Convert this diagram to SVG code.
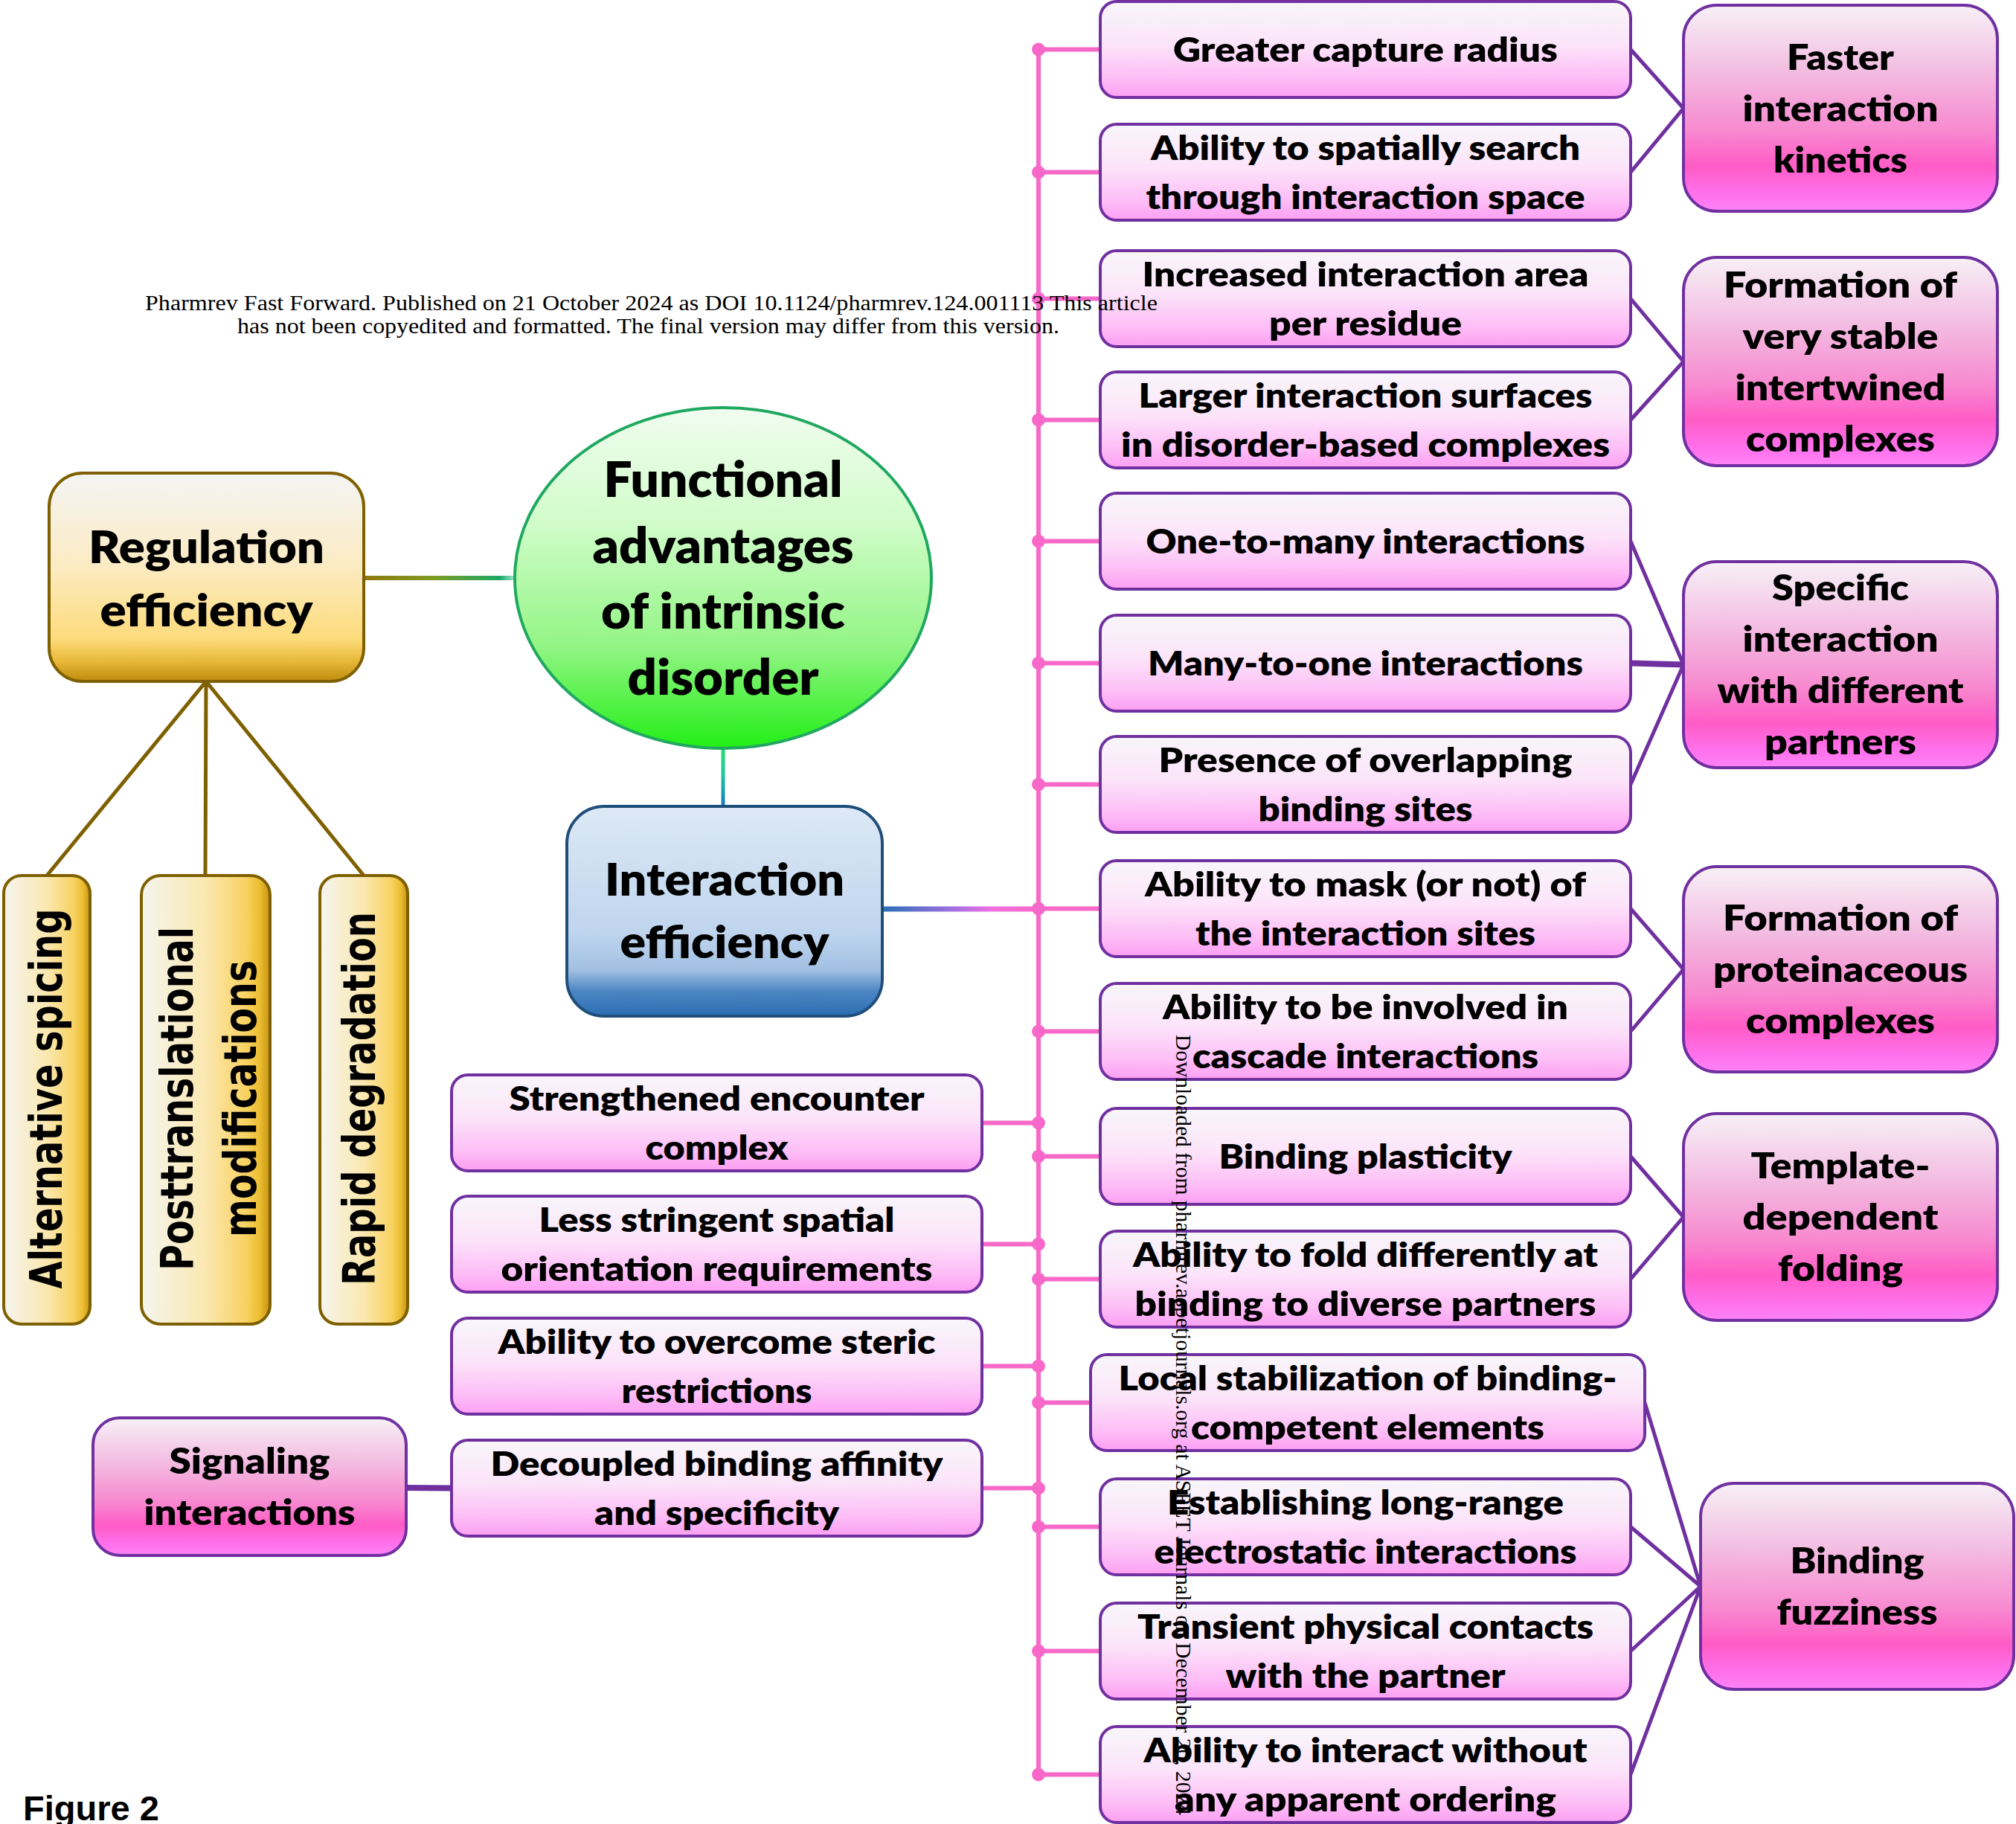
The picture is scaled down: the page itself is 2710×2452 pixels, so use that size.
<svg xmlns="http://www.w3.org/2000/svg" width="2710" height="2452" viewBox="0 0 2710 2452">
<defs>
<linearGradient id="gBox" x1="0" y1="0" x2="0" y2="1"><stop offset="0" stop-color="#f8f6fa"/><stop offset="0.45" stop-color="#fce4fa"/><stop offset="0.8" stop-color="#fdbdf6"/><stop offset="1" stop-color="#fc9ff3"/></linearGradient>
<linearGradient id="gCat" x1="0" y1="0" x2="0" y2="1"><stop offset="0" stop-color="#f7f0f6"/><stop offset="0.3" stop-color="#f3c0e3"/><stop offset="0.6" stop-color="#f78bd0"/><stop offset="0.78" stop-color="#ff5cc6"/><stop offset="0.9" stop-color="#ff6ee8"/><stop offset="1" stop-color="#ff82f8"/></linearGradient>
<linearGradient id="gReg" x1="0" y1="0" x2="0" y2="1"><stop offset="0" stop-color="#f3f4f4"/><stop offset="0.45" stop-color="#fcebc2"/><stop offset="0.8" stop-color="#fddb7a"/><stop offset="0.9" stop-color="#e8b93a"/><stop offset="1" stop-color="#be8c0c"/></linearGradient>
<linearGradient id="gVert" x1="0" y1="0" x2="1" y2="0"><stop offset="0" stop-color="#f5f5ef"/><stop offset="0.5" stop-color="#fbe8b0"/><stop offset="0.82" stop-color="#f8d160"/><stop offset="0.92" stop-color="#ebbd30"/><stop offset="1" stop-color="#c39212"/></linearGradient>
<linearGradient id="gEll" x1="0" y1="0" x2="0" y2="1"><stop offset="0" stop-color="#f1fcf0"/><stop offset="0.35" stop-color="#cffcc8"/><stop offset="0.7" stop-color="#93f585"/><stop offset="1" stop-color="#22ee16"/></linearGradient>
<linearGradient id="gInt" x1="0" y1="0" x2="0" y2="1"><stop offset="0" stop-color="#dde9f5"/><stop offset="0.6" stop-color="#bfd5ee"/><stop offset="0.78" stop-color="#a2c0e3"/><stop offset="0.88" stop-color="#4d86c4"/><stop offset="1" stop-color="#2b6db2"/></linearGradient>
<linearGradient id="gRegEll" gradientUnits="userSpaceOnUse" x1="489" y1="0" x2="692" y2="0"><stop offset="0" stop-color="#8f7a0e"/><stop offset="0.45" stop-color="#7f9a20"/><stop offset="0.9" stop-color="#1aa866"/><stop offset="1" stop-color="#9ee8d0"/></linearGradient>
<linearGradient id="gEllInt" gradientUnits="userSpaceOnUse" x1="0" y1="1005" x2="0" y2="1084"><stop offset="0" stop-color="#22e066"/><stop offset="0.45" stop-color="#1cc8a0"/><stop offset="1" stop-color="#1a78c0"/></linearGradient>
<linearGradient id="gIntSp" gradientUnits="userSpaceOnUse" x1="1186" y1="0" x2="1396" y2="0"><stop offset="0" stop-color="#2a6fb8"/><stop offset="0.45" stop-color="#a070e0"/><stop offset="0.7" stop-color="#f070e0"/><stop offset="1" stop-color="#f868c8"/></linearGradient>
<style>
.box{fill:url(#gBox);stroke:#7030a0;stroke-width:4}
.cat{fill:url(#gCat);stroke:#7030a0;stroke-width:4}
.t{font-family:Lato,"Liberation Sans",sans-serif;font-weight:800;font-size:45px;text-anchor:middle;fill:#000}
.tc{font-family:Lato,"Liberation Sans",sans-serif;font-weight:800;font-size:47px;text-anchor:middle;fill:#000}
.tb{font-family:Lato,"Liberation Sans",sans-serif;font-weight:800;font-size:60px;text-anchor:middle;fill:#000}
.te{font-family:Lato,"Liberation Sans",sans-serif;font-weight:800;font-size:66px;text-anchor:middle;fill:#000}
.tv{font-family:"DejaVu Sans",Verdana,sans-serif;font-weight:700;font-size:60px;text-anchor:middle;fill:#000}
.wm{font-family:"Liberation Serif","Times New Roman",serif;font-size:29.5px;fill:#000}
.pk{stroke:#f868c8;stroke-width:6;fill:none}
.pu{stroke:#7030a0;stroke-width:5;fill:none}
.br{stroke:#7f6000;stroke-width:5;fill:none}
.dot{fill:#f868c8}
</style>
</defs>
<rect width="2710" height="2452" fill="#ffffff"/>

<g id="connectors">
<line x1="489" y1="777" x2="692" y2="777" stroke="url(#gRegEll)" stroke-width="6"/>
<line x1="972" y1="1003" x2="972" y2="1084" stroke="url(#gEllInt)" stroke-width="5"/>
<line x1="1186" y1="1222" x2="1396" y2="1222" stroke="url(#gIntSp)" stroke-width="7"/>
<path class="br" d="M277,916 L63,1177 M277,916 L276,1177 M277,916 L489,1177"/>
<path class="pk" d="M1396,66.5 V2385.5"/>
<path class="pk" d="M1396,66.5 H1479 M1396,231.5 H1479 M1396,401.5 H1479 M1396,564.5 H1479 M1396,727.5 H1479 M1396,891.5 H1479 M1396,1054.5 H1479 M1396,1221.5 H1479 M1396,1386.5 H1479 M1396,1554.5 H1479 M1396,1719.5 H1479 M1396,1885.5 H1466 M1396,2052.5 H1479 M1396,2219.5 H1479 M1396,2385.5 H1479"/>
<path class="pk" d="M1320,1509.5 H1396 M1320,1672.5 H1396 M1320,1836.5 H1396 M1320,2000.5 H1396"/>
<g class="dot">
<circle cx="1396" cy="66.5" r="9"/><circle cx="1396" cy="231.5" r="9"/><circle cx="1396" cy="401.5" r="9"/><circle cx="1396" cy="564.5" r="9"/><circle cx="1396" cy="727.5" r="9"/><circle cx="1396" cy="891.5" r="9"/><circle cx="1396" cy="1054.5" r="9"/><circle cx="1396" cy="1221.5" r="9"/><circle cx="1396" cy="1386.5" r="9"/><circle cx="1396" cy="1554.5" r="9"/><circle cx="1396" cy="1719.5" r="9"/><circle cx="1396" cy="1885.5" r="9"/><circle cx="1396" cy="2052.5" r="9"/><circle cx="1396" cy="2219.5" r="9"/><circle cx="1396" cy="2385.5" r="9"/>
<circle cx="1396" cy="1509.5" r="9"/><circle cx="1396" cy="1672.5" r="9"/><circle cx="1396" cy="1836.5" r="9"/><circle cx="1396" cy="2000.5" r="9"/>
</g>
<path class="pu" d="M2192,66.5 L2263,145.5 L2192,231.5"/>
<path class="pu" d="M2192,401.5 L2263,486 L2192,564.5"/>
<path class="pu" d="M2192,727.5 L2263,893.5 L2192,1054.5"/>
<line x1="2192" y1="891.5" x2="2263" y2="893.5" stroke="#7030a0" stroke-width="8"/>
<path class="pu" d="M2192,1221.5 L2263,1303 L2192,1386.5"/>
<path class="pu" d="M2192,1554.5 L2263,1636 L2192,1719.5"/>
<path class="pu" d="M2211,1885.5 L2286,2132.5 M2192,2052.5 L2286,2132.5 M2192,2219.5 L2286,2132.5 M2192,2385.5 L2286,2132.5"/>
<line x1="546" y1="2000" x2="607" y2="2000.5" stroke="#7030a0" stroke-width="8"/>
</g>

<g id="regulation">
<rect x="66" y="636" width="423" height="280" rx="45" fill="url(#gReg)" stroke="#7f6000" stroke-width="4"/>
<text class="tb" x="277.5" y="757" textLength="317" lengthAdjust="spacingAndGlyphs">Regulation</text>
<text class="tb" x="277.5" y="842" textLength="286" lengthAdjust="spacingAndGlyphs">efficiency</text>
</g>
<g id="center">
<ellipse cx="972" cy="777" rx="280" ry="229" fill="url(#gEll)" stroke="#20a860" stroke-width="4"/>
<text class="te" x="972" y="668" textLength="321" lengthAdjust="spacingAndGlyphs">Functional</text>
<text class="te" x="972" y="757" textLength="351" lengthAdjust="spacingAndGlyphs">advantages</text>
<text class="te" x="972" y="845" textLength="328" lengthAdjust="spacingAndGlyphs">of intrinsic</text>
<text class="te" x="972" y="934" textLength="257" lengthAdjust="spacingAndGlyphs">disorder</text>
</g>
<g id="interaction">
<rect x="762" y="1084" width="424" height="282" rx="50" fill="url(#gInt)" stroke="#1f4e79" stroke-width="4"/>
<text class="tb" x="974" y="1204" textLength="322" lengthAdjust="spacingAndGlyphs">Interaction</text>
<text class="tb" x="974" y="1288" textLength="281" lengthAdjust="spacingAndGlyphs">efficiency</text>
</g>

<g id="alt-splicing">
<rect x="5" y="1177" width="116" height="603" rx="24" fill="url(#gVert)" stroke="#7f6000" stroke-width="4"/>
<text class="tv" transform="translate(83,1477) rotate(-90)" textLength="511" lengthAdjust="spacingAndGlyphs">Alternative spicing</text>
</g>
<g id="ptm">
<rect x="190" y="1177" width="173" height="603" rx="26" fill="url(#gVert)" stroke="#7f6000" stroke-width="4"/>
<text class="tv" transform="translate(259,1477) rotate(-90)" textLength="462" lengthAdjust="spacingAndGlyphs">Posttranslational</text>
<text class="tv" transform="translate(344,1477) rotate(-90)" textLength="372" lengthAdjust="spacingAndGlyphs">modifications</text>
</g>
<g id="rapid-degradation">
<rect x="430" y="1177" width="118" height="603" rx="24" fill="url(#gVert)" stroke="#7f6000" stroke-width="4"/>
<text class="tv" transform="translate(504,1477) rotate(-90)" textLength="502" lengthAdjust="spacingAndGlyphs">Rapid degradation</text>
</g>

<g id="r1"><rect class="box" x="1479" y="2" width="713" height="129" rx="22"/>
<text class="t" x="1835.5" y="82.5" textLength="517" lengthAdjust="spacingAndGlyphs">Greater capture radius</text></g>
<g id="r2"><rect class="box" x="1479" y="167" width="713" height="129" rx="22"/>
<text class="t" x="1835.5" y="214.5" textLength="577" lengthAdjust="spacingAndGlyphs">Ability to spatially search</text>
<text class="t" x="1835.5" y="280.5" textLength="590" lengthAdjust="spacingAndGlyphs">through interaction space</text></g>
<g id="r3"><rect class="box" x="1479" y="337" width="713" height="129" rx="22"/>
<text class="t" x="1835.5" y="384.5" textLength="600" lengthAdjust="spacingAndGlyphs">Increased interaction area</text>
<text class="t" x="1835.5" y="450.5" textLength="259" lengthAdjust="spacingAndGlyphs">per residue</text></g>
<g id="r4"><rect class="box" x="1479" y="500" width="713" height="129" rx="22"/>
<text class="t" x="1835.5" y="547.5" textLength="610" lengthAdjust="spacingAndGlyphs">Larger interaction surfaces</text>
<text class="t" x="1835.5" y="613.5" textLength="657" lengthAdjust="spacingAndGlyphs">in disorder-based complexes</text></g>
<g id="r5"><rect class="box" x="1479" y="663" width="713" height="129" rx="22"/>
<text class="t" x="1835.5" y="743.5" textLength="590" lengthAdjust="spacingAndGlyphs">One-to-many interactions</text></g>
<g id="r6"><rect class="box" x="1479" y="827" width="713" height="129" rx="22"/>
<text class="t" x="1835.5" y="907.5" textLength="585" lengthAdjust="spacingAndGlyphs">Many-to-one interactions</text></g>
<g id="r7"><rect class="box" x="1479" y="990" width="713" height="129" rx="22"/>
<text class="t" x="1835.5" y="1037.5" textLength="556" lengthAdjust="spacingAndGlyphs">Presence of overlapping</text>
<text class="t" x="1835.5" y="1103.5" textLength="288" lengthAdjust="spacingAndGlyphs">binding sites</text></g>
<g id="r8"><rect class="box" x="1479" y="1157" width="713" height="129" rx="22"/>
<text class="t" x="1835.5" y="1204.5" textLength="593" lengthAdjust="spacingAndGlyphs">Ability to mask (or not) of</text>
<text class="t" x="1835.5" y="1270.5" textLength="457" lengthAdjust="spacingAndGlyphs">the interaction sites</text></g>
<g id="r9"><rect class="box" x="1479" y="1322" width="713" height="129" rx="22"/>
<text class="t" x="1835.5" y="1369.5" textLength="545" lengthAdjust="spacingAndGlyphs">Ability to be involved in</text>
<text class="t" x="1835.5" y="1435.5" textLength="465" lengthAdjust="spacingAndGlyphs">cascade interactions</text></g>
<g id="r10"><rect class="box" x="1479" y="1490" width="713" height="129" rx="22"/>
<text class="t" x="1835.5" y="1570.5" textLength="394" lengthAdjust="spacingAndGlyphs">Binding plasticity</text></g>
<g id="r11"><rect class="box" x="1479" y="1655" width="713" height="129" rx="22"/>
<text class="t" x="1835.5" y="1702.5" textLength="625" lengthAdjust="spacingAndGlyphs">Ability to fold differently at</text>
<text class="t" x="1835.5" y="1768.5" textLength="620" lengthAdjust="spacingAndGlyphs">binding to diverse partners</text></g>
<g id="r12"><rect class="box" x="1466" y="1821" width="745" height="129" rx="22"/>
<text class="t" x="1838.5" y="1868.5" textLength="670" lengthAdjust="spacingAndGlyphs">Local stabilization of binding-</text>
<text class="t" x="1838.5" y="1934.5" textLength="475" lengthAdjust="spacingAndGlyphs">competent elements</text></g>
<g id="r13"><rect class="box" x="1479" y="1988" width="713" height="129" rx="22"/>
<text class="t" x="1835.5" y="2035.5" textLength="533" lengthAdjust="spacingAndGlyphs">Establishing long-range</text>
<text class="t" x="1835.5" y="2101.5" textLength="568" lengthAdjust="spacingAndGlyphs">electrostatic interactions</text></g>
<g id="r14"><rect class="box" x="1479" y="2155" width="713" height="129" rx="22"/>
<text class="t" x="1835.5" y="2202.5" textLength="613" lengthAdjust="spacingAndGlyphs">Transient physical contacts</text>
<text class="t" x="1835.5" y="2268.5" textLength="376" lengthAdjust="spacingAndGlyphs">with the partner</text></g>
<g id="r15"><rect class="box" x="1479" y="2321" width="713" height="129" rx="22"/>
<text class="t" x="1835.5" y="2368.5" textLength="596" lengthAdjust="spacingAndGlyphs">Ability to interact without</text>
<text class="t" x="1835.5" y="2434.5" textLength="513" lengthAdjust="spacingAndGlyphs">any apparent ordering</text></g>

<g id="l1"><rect class="box" x="607" y="1445" width="713" height="129" rx="22"/>
<text class="t" x="963.5" y="1492.5" textLength="558" lengthAdjust="spacingAndGlyphs">Strengthened encounter</text>
<text class="t" x="963.5" y="1558.5" textLength="192" lengthAdjust="spacingAndGlyphs">complex</text></g>
<g id="l2"><rect class="box" x="607" y="1608" width="713" height="129" rx="22"/>
<text class="t" x="963.5" y="1655.5" textLength="478" lengthAdjust="spacingAndGlyphs">Less stringent spatial</text>
<text class="t" x="963.5" y="1721.5" textLength="580" lengthAdjust="spacingAndGlyphs">orientation requirements</text></g>
<g id="l3"><rect class="box" x="607" y="1772" width="713" height="129" rx="22"/>
<text class="t" x="963.5" y="1819.5" textLength="588" lengthAdjust="spacingAndGlyphs">Ability to overcome steric</text>
<text class="t" x="963.5" y="1885.5" textLength="256" lengthAdjust="spacingAndGlyphs">restrictions</text></g>
<g id="l4"><rect class="box" x="607" y="1936" width="713" height="129" rx="22"/>
<text class="t" x="963.5" y="1983.5" textLength="608" lengthAdjust="spacingAndGlyphs">Decoupled binding affinity</text>
<text class="t" x="963.5" y="2049.5" textLength="329" lengthAdjust="spacingAndGlyphs">and specificity</text></g>

<g id="c1"><rect class="cat" x="2263" y="7" width="422" height="277" rx="45"/>
<text class="tc" x="2474" y="93.5" textLength="144" lengthAdjust="spacingAndGlyphs">Faster</text>
<text class="tc" x="2474" y="162.5" textLength="263" lengthAdjust="spacingAndGlyphs">interaction</text>
<text class="tc" x="2474" y="231.5" textLength="180" lengthAdjust="spacingAndGlyphs">kinetics</text></g>
<g id="c2"><rect class="cat" x="2263" y="346" width="422" height="280" rx="45"/>
<text class="tc" x="2474" y="399.5" textLength="314" lengthAdjust="spacingAndGlyphs">Formation of</text>
<text class="tc" x="2474" y="468.5" textLength="263" lengthAdjust="spacingAndGlyphs">very stable</text>
<text class="tc" x="2474" y="537.5" textLength="283" lengthAdjust="spacingAndGlyphs">intertwined</text>
<text class="tc" x="2474" y="606.5" textLength="254" lengthAdjust="spacingAndGlyphs">complexes</text></g>
<g id="c3"><rect class="cat" x="2263" y="755" width="422" height="277" rx="45"/>
<text class="tc" x="2474" y="807" textLength="184" lengthAdjust="spacingAndGlyphs">Specific</text>
<text class="tc" x="2474" y="876" textLength="263" lengthAdjust="spacingAndGlyphs">interaction</text>
<text class="tc" x="2474" y="945" textLength="331" lengthAdjust="spacingAndGlyphs">with different</text>
<text class="tc" x="2474" y="1014" textLength="204" lengthAdjust="spacingAndGlyphs">partners</text></g>
<g id="c4"><rect class="cat" x="2263" y="1165" width="422" height="276" rx="45"/>
<text class="tc" x="2474" y="1251" textLength="316" lengthAdjust="spacingAndGlyphs">Formation of</text>
<text class="tc" x="2474" y="1320" textLength="342" lengthAdjust="spacingAndGlyphs">proteinaceous</text>
<text class="tc" x="2474" y="1389" textLength="254" lengthAdjust="spacingAndGlyphs">complexes</text></g>
<g id="c5"><rect class="cat" x="2263" y="1497" width="422" height="278" rx="45"/>
<text class="tc" x="2474" y="1584" textLength="241" lengthAdjust="spacingAndGlyphs">Template-</text>
<text class="tc" x="2474" y="1653" textLength="263" lengthAdjust="spacingAndGlyphs">dependent</text>
<text class="tc" x="2474" y="1722" textLength="168" lengthAdjust="spacingAndGlyphs">folding</text></g>
<g id="c6"><rect class="cat" x="2286" y="1994" width="421" height="277" rx="45"/>
<text class="tc" x="2496.5" y="2115" textLength="180" lengthAdjust="spacingAndGlyphs">Binding</text>
<text class="tc" x="2496.5" y="2184" textLength="216" lengthAdjust="spacingAndGlyphs">fuzziness</text></g>
<g id="signaling"><rect class="cat" x="125" y="1906" width="421" height="185" rx="36"/>
<text class="tc" x="335.5" y="1981" textLength="216" lengthAdjust="spacingAndGlyphs">Signaling</text>
<text class="tc" x="335.5" y="2050" textLength="284" lengthAdjust="spacingAndGlyphs">interactions</text></g>

<g id="page-text">
<text class="wm" x="875.5" y="417" text-anchor="middle" textLength="1361" lengthAdjust="spacingAndGlyphs">Pharmrev Fast Forward. Published on 21 October 2024 as DOI 10.1124/pharmrev.124.001113 This article</text>
<text class="wm" x="871.5" y="448" text-anchor="middle" textLength="1105" lengthAdjust="spacingAndGlyphs">has not been copyedited and formatted. The final version may differ from this version.</text>
<text class="wm" transform="translate(1581,1391) rotate(90)">Downloaded from pharmrev.aspetjournals.org at ASPET Journals on December 20, 2024</text>
<text x="31" y="2447" font-family="'Liberation Sans',Arial,sans-serif" font-weight="700" font-size="47">Figure 2</text>
</g>
</svg>
